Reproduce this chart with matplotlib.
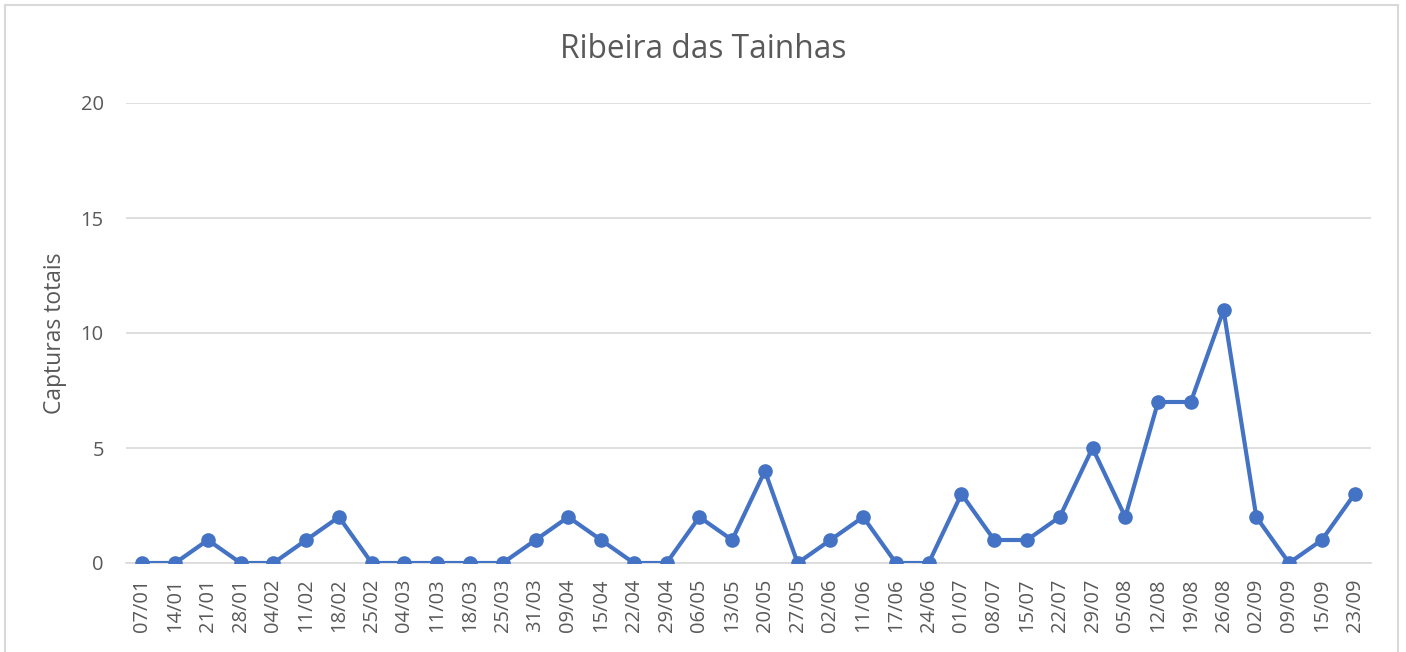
import matplotlib as mpl
import matplotlib.pyplot as plt
from matplotlib.patches import Rectangle

# data
datas = ['07/01', '14/01', '21/01', '28/01', '04/02', '11/02', '18/02', '25/02',
         '04/03', '11/03', '18/03', '25/03', '31/03', '09/04', '15/04', '22/04',
         '29/04', '06/05', '13/05', '20/05', '27/05', '02/06', '11/06', '17/06',
         '24/06', '01/07', '08/07', '15/07', '22/07', '29/07', '05/08', '12/08',
         '19/08', '26/08', '02/09', '09/09', '15/09', '23/09']
capturas = [0, 0, 1, 0, 0, 1, 2, 0, 0, 0, 0, 0, 1, 2, 1, 0, 0, 2, 1, 4, 0, 1, 2, 0,
            0, 3, 1, 1, 2, 5, 2, 7, 7, 11, 2, 0, 1, 3]

# configuration
mpl.rcParams['font.family'] = ['Open Sans', 'DejaVu Sans']
txt = '#595959'

fig = plt.figure(figsize=(14.06, 6.52), dpi=100)
ax = fig.add_axes([126 / 1406, 1 - 563 / 652, (1371 - 126) / 1406, (563 - 103) / 652])

x = list(range(len(datas)))
ax.plot(x, capturas, color='#4472C4', linewidth=3, marker='o', markersize=9.5,
        solid_joinstyle='round', zorder=3)

ax.set_xlim(-0.5, len(datas) - 0.5)
ax.set_ylim(0, 20)
ax.set_yticks([0, 5, 10, 15, 20])
ax.set_xticks(x)
ax.set_xticklabels(datas, rotation=90)
ax.tick_params(axis='x', labelsize=14.5, colors=txt, length=0, pad=11)
ax.tick_params(axis='y', labelsize=14.5, colors=txt, length=0, pad=16)

ax.grid(axis='y', color='#D9D9D9', linewidth=1.2)
ax.set_axisbelow(True)
for s in ['top', 'right', 'left']:
    ax.spines[s].set_visible(False)
ax.spines['bottom'].set_color('#D9D9D9')
ax.spines['bottom'].set_linewidth(1.2)

# labels
ax.set_ylabel('Capturas totais', fontsize=16.5, color=txt, labelpad=10)
fig.text(0.5, 1 - 50 / 652, 'Ribeira das Tainhas', ha='center', va='center',
         fontsize=22.8, color=txt)

# chart border
fig.patches.append(Rectangle((5 / 1406, -0.1), (1398 - 5) / 1406, 1.1 - 5 / 652,
                             transform=fig.transFigure, fill=False,
                             edgecolor='#D9D9D9', linewidth=1.5))

plt.savefig('out.png', dpi=100)
